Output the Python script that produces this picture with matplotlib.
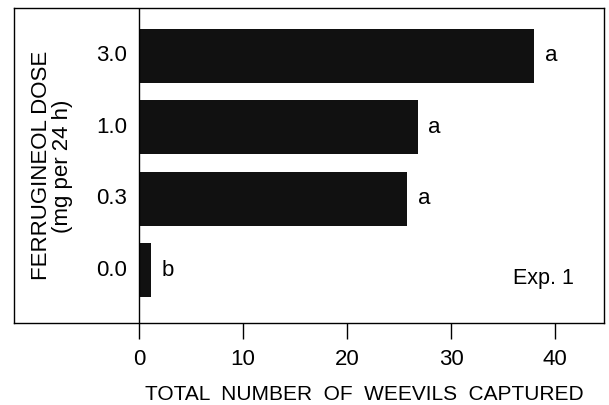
import numpy as np
import matplotlib
matplotlib.use('Agg')
import matplotlib.pyplot as plt

# data
doses = ['0.0', '0.3', '1.0', '3.0']
captured = [1.2, 25.8, 26.8, 38.0]
letters = ['b', 'a', 'a', 'a']
xticks = [0, 10, 20, 30, 40]

plt.rcParams['font.family'] = 'Liberation Sans'

fig = plt.figure(figsize=(6.09, 4.05), dpi=100)
ax = fig.add_axes([14/609., (405-323)/405., 590/609., 315/405.])

pos = np.arange(len(doses))
ax.barh(pos, captured, height=0.76, color='#111111', zorder=2)
ax.axvline(0, color='black', lw=1, zorder=3)

for p, v, l in zip(pos, captured, letters):
    ax.text(v + 1.0, p, l, ha='left', va='center', fontsize=16)

# category labels drawn inside the frame
for p, d in zip(pos, doses):
    ax.text(-1.1, p, d, ha='right', va='center', fontsize=16)

ax.text(-9.4, 1.46, 'FERRUGINEOL DOSE', rotation=90, ha='center', va='center', fontsize=16)
ax.text(-7.3, 1.46, '(mg per 24 h)', rotation=90, ha='center', va='center', fontsize=16)
ax.text(41.8, -0.12, 'Exp. 1', ha='right', va='center', fontsize=15.5)

ax.set_xlim(-12.0, 44.7)
ax.set_ylim(-0.74, 3.67)
ax.set_yticks([])
ax.set_xticks(xticks)
ax.tick_params(axis='x', direction='out', length=11.5, width=1, labelsize=16, pad=7)
for s in ax.spines.values():
    s.set_linewidth(1)

fig.text(145/609., 1 - 395/405., 'TOTAL  NUMBER  OF  WEEVILS  CAPTURED', ha='left', va='center', fontsize=15)

plt.savefig('out.png', dpi=100)
